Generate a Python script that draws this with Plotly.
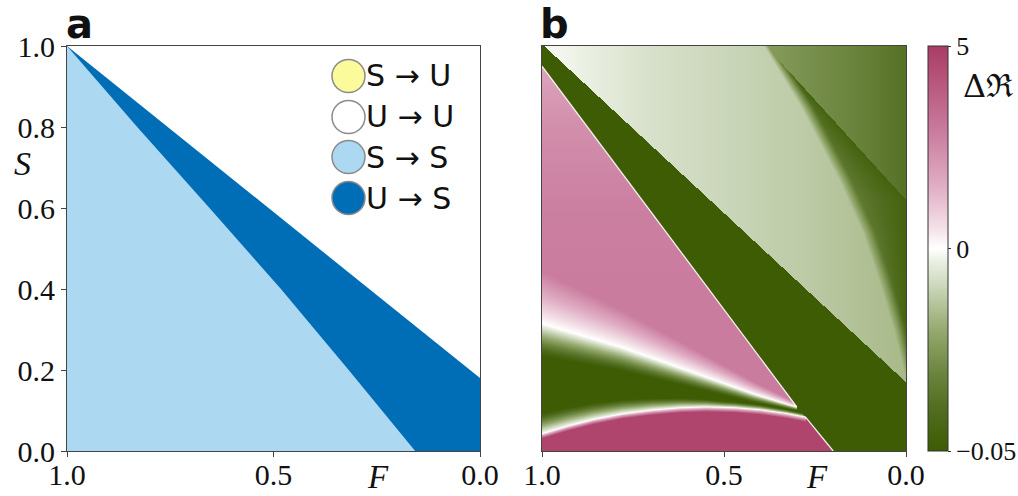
import numpy as np
import plotly.graph_objects as go

# ---------------- shared ticks ----------------
F_TICKS = [1.0, 0.5, 0.0]
F_TICK_TEXT = ["1.0", "0.5", "0.0"]
S_TICKS = [0.0, 0.2, 0.4, 0.6, 0.8, 1.0]
S_TICK_TEXT = ["0.0", "0.2", "0.4", "0.6", "0.8", "1.0"]

# ---------------- Panel a : stability classes ----------------
A_STABLE_EDGE_F = [1.0, 0.83, 0.655, 0.482, 0.318, 0.157]
A_STABLE_EDGE_S = [1.0, 0.8, 0.6, 0.4, 0.2, 0.0]
A_UNSTABLE_EDGE_F = [1.0, 0.0]
A_UNSTABLE_EDGE_S = [1.0, 0.18]
LEGEND_LABELS = ["S → U", "U → U", "S → S", "U → S"]
LEGEND_COLORS = ["#fbfb9c", "#ffffff", "#add8f1", "#006db7"]

# ---------------- Panel b : ΔR map (boundaries) ----------------
B_BAND_TOP_F = [0.0, 1.0]
B_BAND_TOP_S = [0.17, 1.005]
B_HYP_F = [0.20, 0.277, 0.30, 1.0]
B_HYP_S = [0.0, 0.085, 0.109, 0.95]
B_MID_F = [0.30, 0.42, 0.602, 0.786, 1.0]
B_MID_S = [0.109, 0.142, 0.200, 0.258, 0.315]
B_LOW_F = [0.277, 0.33, 0.40, 0.47, 0.55, 0.62, 0.70, 0.78, 0.86, 0.93, 1.0]
B_LOW_S = [0.085, 0.094, 0.103, 0.108, 0.110, 0.108, 0.102, 0.093, 0.079, 0.063, 0.044]
B_C1_S = [0.175, 0.30, 0.42, 0.54, 0.67, 0.85, 1.0]
B_C1_F = [0.0, 0.035, 0.075, 0.12, 0.185, 0.29, 0.392]
B_C2_S = [0.62, 0.98, 1.0]
B_C2_F = [0.0, 0.365, 0.375]

# level values (ΔR)
DR_BAND = -0.05
DR_BOTTOM = 4.7
TRI_S = [0.40, 0.60, 0.80, 0.95]
TRI_DR = [2.9, 2.8, 2.4, 1.8]
LIGHT_F = [0.0, 0.1, 0.3, 0.5, 0.7, 0.9, 1.0]
LIGHT_DR = [-0.0165, -0.015, -0.012, -0.0095, -0.007, -0.003, -0.001]
CORNER_F = [0.0, 0.15, 0.39]
CORNER_DR = [-0.038, -0.031, -0.024]
WEDGE_NEAR_DR = -0.032
WEDGE_FAR_DR = -0.046
C1_SOFT_W = 0.035
# fade widths of the white ridges
FADE_F = [0.30, 1.0]
TRI_FADE_W = [0.01, 0.13]
MID_FADE_W = [0.008, 0.08]
LOW_FADE_F = [0.277, 0.5, 1.0]
LOW_FADE_W = [0.008, 0.015, 0.05]
BOTTOM_FADE_W = 0.012

CBAR_VALUES = [-0.05, 0.0, 5.0]
CBAR_TEXT = ["−0.05", "0", "5"]
DR_NEG_SCALE = 0.05
DR_POS_SCALE = 5.0

# ---------------- build the ΔR field ----------------
Fg = np.linspace(0.0, 1.0, 365)
Sg = np.linspace(0.0, 1.0, 406)
FF, SS = np.meshgrid(Fg, Sg)

bt = np.interp(FF, B_BAND_TOP_F, B_BAND_TOP_S)
hyp = np.interp(FF, B_HYP_F, B_HYP_S, left=-1.0)
mid = np.interp(FF, B_MID_F, B_MID_S, left=np.nan)
low = np.interp(FF, B_LOW_F, B_LOW_S, left=1.0)
c1 = np.interp(SS, B_C1_S, B_C1_F, left=0.0)
c2 = np.interp(SS, B_C2_S, B_C2_F, left=0.0)
light = np.interp(FF, LIGHT_F, LIGHT_DR)
corner = np.interp(FF, CORNER_F, CORNER_DR)

z = np.full(FF.shape, DR_BAND)

top = SS >= bt
below = (~top) & (SS < hyp)

span = np.maximum(c1 - c2, 1e-6)
frac = np.clip((c1 - FF) / span, 0, 1)
blend = np.clip((c1 - FF) / C1_SOFT_W, 0, 1)
wedge = WEDGE_NEAR_DR + (WEDGE_FAR_DR - WEDGE_NEAR_DR) * frac
zW = light + (wedge - light) * blend
zTop = np.where(FF >= c1, light,
                np.where((FF < c2) & (SS >= B_C2_S[0]), corner, zW))
z = np.where(top, zTop, z)

has_mid = ~np.isnan(mid)
midv = np.where(has_mid, mid, -1.0)
tri = below & has_mid & (SS >= midv)
w_up = np.interp(FF, FADE_F, TRI_FADE_W)
t = np.clip((SS - midv) / w_up, 0, 1)
zTri = np.interp(SS, TRI_S, TRI_DR) * t
z = np.where(tri, zTri, z)

bot = below & (SS < low)
zBot = DR_BOTTOM * np.clip((low - SS) / BOTTOM_FADE_W, 0, 1)
z = np.where(bot, zBot, z)

grn = below & ~tri & ~bot
w_dn = np.interp(FF, FADE_F, MID_FADE_W)
f_mid = np.where(has_mid, np.clip((midv - SS) / w_dn, 0, 1), 1.0)
w_lo = np.interp(FF, LOW_FADE_F, LOW_FADE_W)
f_low = np.clip((SS - low) / w_lo, 0, 1)
zG = DR_BAND * np.minimum(f_mid, f_low)
z = np.where(grn, zG, z)

v = np.where(z > 0, z / DR_POS_SCALE, z / DR_NEG_SCALE)
v = np.clip(v, -1, 1)
cbar_vals = [c / DR_POS_SCALE if c > 0 else c / DR_NEG_SCALE for c in CBAR_VALUES]

COLORSCALE = [
    [0.00, "rgb(61,92,3)"],
    [0.10, "rgb(80,108,30)"],
    [0.20, "rgb(110,135,65)"],
    [0.30, "rgb(150,170,112)"],
    [0.40, "rgb(200,212,182)"],
    [0.47, "rgb(236,241,229)"],
    [0.50, "rgb(255,255,255)"],
    [0.55, "rgb(243,225,232)"],
    [0.65, "rgb(225,175,197)"],
    [0.80, "rgb(200,120,155)"],
    [1.00, "rgb(170,60,100)"],
]

# ---------------- figure ----------------
W, H = 1018, 496
AX_L, AX_R = 67, 480
BX_L, BX_R = 542, 906
Y_T, Y_B = 46, 451

def fx(px):
    return px / W

def fy(py):
    return 1 - py / H

fig = go.Figure()

# panel a
fig.add_trace(go.Scatter(
    x=A_UNSTABLE_EDGE_F + [A_UNSTABLE_EDGE_F[-1], A_UNSTABLE_EDGE_F[0]],
    y=A_UNSTABLE_EDGE_S + [0.0, 0.0],
    fill="toself", fillcolor=LEGEND_COLORS[3], line=dict(width=0),
    mode="lines", showlegend=False, hoverinfo="skip", xaxis="x", yaxis="y"))
fig.add_trace(go.Scatter(
    x=A_STABLE_EDGE_F + [A_STABLE_EDGE_F[0]],
    y=A_STABLE_EDGE_S + [0.0],
    fill="toself", fillcolor=LEGEND_COLORS[2], line=dict(width=0),
    mode="lines", showlegend=False, hoverinfo="skip", xaxis="x", yaxis="y"))

# panel b
fig.add_trace(go.Heatmap(
    x=Fg, y=Sg, z=v, zmin=-1, zmax=1, colorscale=COLORSCALE,
    xaxis="x2", yaxis="y2", hoverinfo="skip",
    colorbar=dict(
        x=fx(928), xanchor="left", xpad=0, ypad=0,
        y=fy((Y_T + Y_B) / 2), yanchor="middle",
        len=Y_B - Y_T, lenmode="pixels",
        thickness=20, thicknessmode="pixels",
        tickvals=cbar_vals, ticktext=CBAR_TEXT,
        ticks="outside", ticklen=3, tickcolor="#333",
        tickfont=dict(family="Liberation Serif", size=26, color="#111"),
        outlinewidth=1, outlinecolor="#333",
    )))
hx = [B_HYP_F[0], B_HYP_F[1], None, B_HYP_F[2], B_HYP_F[3]]
hy = [B_HYP_S[0], B_HYP_S[1], None, B_HYP_S[2], B_HYP_S[3]]
fig.add_trace(go.Scatter(x=hx, y=hy, mode="lines",
                         line=dict(color="rgba(255,255,255,0.9)", width=1.3),
                         showlegend=False, hoverinfo="skip", xaxis="x2", yaxis="y2"))

tickfont = dict(family="Liberation Serif", size=30, color="#111")
axis_common = dict(showgrid=False, zeroline=False, showline=True, mirror=True,
                   linecolor="#444", linewidth=1, ticks="outside", ticklen=5,
                   tickcolor="#444", tickfont=tickfont, automargin=False)

fig.update_layout(
    width=W, height=H,
    margin=dict(l=0, r=0, t=0, b=0, pad=0, autoexpand=False),
    paper_bgcolor="white", plot_bgcolor="white", showlegend=False,
    xaxis=dict(domain=[fx(AX_L), fx(AX_R)], range=[1, 0], tickvals=F_TICKS,
               ticktext=F_TICK_TEXT, anchor="y", ticklabelstandoff=-8, **axis_common),
    yaxis=dict(domain=[fy(Y_B), fy(Y_T)], range=[0, 1], tickvals=S_TICKS,
               ticktext=S_TICK_TEXT, anchor="x", **axis_common),
    xaxis2=dict(domain=[fx(BX_L), fx(BX_R)], range=[1, 0], tickvals=F_TICKS,
                ticktext=F_TICK_TEXT, anchor="y2", ticklabelstandoff=-8, **axis_common),
    yaxis2=dict(domain=[fy(Y_B), fy(Y_T)], range=[0, 1], anchor="x2",
                showticklabels=False, showgrid=False, zeroline=False, automargin=False,
                showline=True, mirror=True, linecolor="#444", linewidth=1, ticks=""),
)

# manual legend in panel a
row_y = [76, 117, 157, 198]
cx, r = 348.5, 16.5
for lab, col, yy in zip(LEGEND_LABELS, LEGEND_COLORS, row_y):
    fig.add_shape(type="circle", xref="paper", yref="paper",
                  x0=fx(cx - r), x1=fx(cx + r), y0=fy(yy + r), y1=fy(yy - r),
                  fillcolor=col, line=dict(color="#8a8a8a", width=1.5))
    fig.add_annotation(text=lab, xref="paper", yref="paper", x=fx(364), y=fy(yy),
                       xanchor="left", yanchor="middle", showarrow=False,
                       font=dict(family="DejaVu Sans", size=30, color="#111"))

# labels
def ann(text, px, py, size, family, xanchor="center", yanchor="middle"):
    fig.add_annotation(text=text, xref="paper", yref="paper", x=fx(px), y=fy(py),
                       xanchor=xanchor, yanchor=yanchor, showarrow=False,
                       font=dict(family=family, size=size, color="#111"))

ann("<b>a</b>", 64, 24, 40, "DejaVu Sans", xanchor="left")
ann("<b>b</b>", 538, 24, 40, "DejaVu Sans", xanchor="left")
ann("<i>S</i>", 22, 163, 34, "Liberation Serif")
ann("<i>F</i>", 378, 477, 33, "Liberation Serif")
ann("<i>F</i>", 817, 477, 33, "Liberation Serif")
ann("Δℜ", 961, 86, 32, "DejaVu Serif", xanchor="left")

fig.write_html("out.html")
